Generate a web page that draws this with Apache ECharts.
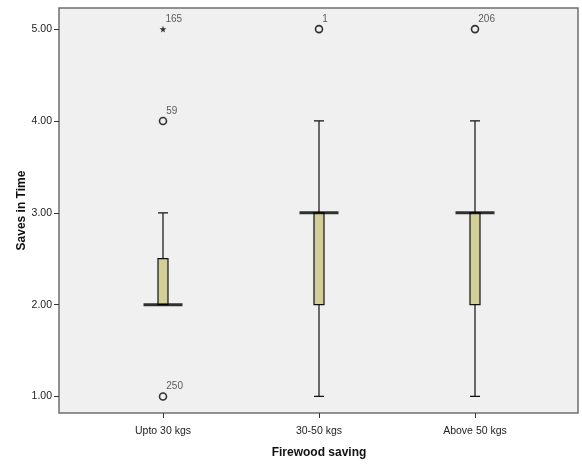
<!DOCTYPE html>
<html>
<head>
<meta charset="utf-8">
<script src="https://cdn.jsdelivr.net/npm/echarts@6/dist/echarts.min.js"></script>
<style>
html,body{margin:0;padding:0;background:#fff;}
#chart{width:582px;height:465px;}
</style>
</head>
<body>
<div id="chart"></div>
<script>
// ---- data ----
const categories = ['Upto 30 kgs', '30-50 kgs', 'Above 50 kgs'];
const whiskerLow  = [2, 1, 1];
const q1          = [2, 2, 2];
const median      = [2, 3, 3];
const q3          = [2.5, 3, 3];
const whiskerHigh = [3, 4, 4];

const outlierCategory = ['Upto 30 kgs', 'Upto 30 kgs', 'Upto 30 kgs', '30-50 kgs', 'Above 50 kgs'];
const outlierValue    = [5, 4, 1, 5, 5];
const outlierCase     = ['165', '59', '250', '1', '206'];
const outlierKind     = ['extreme', 'outlier', 'outlier', 'outlier', 'outlier'];

const yTicks = [1, 2, 3, 4, 5];
const yMin = 0.82, yMax = 5.23;

// ---- build ----
const boxData = categories.map((c, i) => [whiskerLow[i], q1[i], median[i], q3[i], whiskerHigh[i]]);
const medianData = categories.map((c, i) => [c, median[i]]);
const starPath = 'path://M50,0 L61,35 L98,35 L68,57 L79,91 L50,70 L21,91 L32,57 L2,35 L39,35 Z';

const circles = [], stars = [];
outlierValue.forEach((v, i) => {
  const d = {value: [outlierCategory[i], v], name: outlierCase[i]};
  (outlierKind[i] === 'extreme' ? stars : circles).push(d);
});

const font = '"Liberation Sans", Arial, sans-serif';
const labelCfg = {
  show: true, position: 'right', distance: 0, offset: [-1, -10],
  formatter: p => p.name, fontSize: 10, color: '#333', fontFamily: font
};

const chart = echarts.init(document.getElementById('chart'), null, {renderer: 'canvas'});
chart.setOption({
  animation: false,
  backgroundColor: '#ffffff',
  grid: [
    {left: 59, right: 4, top: 8, bottom: 52, show: true, backgroundColor: '#f0f0f0',
     borderColor: '#6e6e6e', borderWidth: 1.5, containLabel: false},
    {left: 85, right: 29, top: 8, bottom: 52, show: false, containLabel: false}
  ],
  xAxis: [
    {gridIndex: 0, type: 'category', data: categories, show: false},
    {gridIndex: 1, type: 'category', data: categories,
     axisLine: {show: false},
     axisTick: {show: true, alignWithLabel: true, length: 5, lineStyle: {color: '#333', width: 1}},
     axisLabel: {fontSize: 10.5, color: '#222', fontFamily: font, margin: 13},
     name: 'Firewood saving', nameLocation: 'middle', nameGap: 34, nameMoveOverlap: false,
     nameTextStyle: {fontSize: 12, fontWeight: 'bold', color: '#111', fontFamily: font},
     splitLine: {show: false}}
  ],
  yAxis: [
    {gridIndex: 0, type: 'value', min: yMin, max: yMax,
     axisLine: {show: false},
     axisTick: {show: true, length: 5, customValues: yTicks, lineStyle: {color: '#333', width: 1}},
     axisLabel: {customValues: yTicks, formatter: v => v.toFixed(2), fontSize: 10.5, color: '#222',
                 fontFamily: font, margin: 7},
     splitLine: {show: false},
     name: 'Saves in Time', nameLocation: 'middle', nameGap: 31, nameMoveOverlap: false,
     nameTextStyle: {fontSize: 12, fontWeight: 'bold', color: '#111', fontFamily: font}},
    {gridIndex: 1, type: 'value', min: yMin, max: yMax, show: false, splitLine: {show: false}}
  ],
  series: [
    {type: 'boxplot', xAxisIndex: 1, yAxisIndex: 1, data: boxData, boxWidth: [10, 10],
     itemStyle: {color: '#d3cf98', borderColor: '#111', borderWidth: 1.2},
     emphasis: {disabled: true}, z: 2},
    {type: 'scatter', xAxisIndex: 1, yAxisIndex: 1, data: medianData, symbol: 'rect',
     symbolSize: [39, 3], itemStyle: {color: '#000'}, z: 4, silent: true},
    {type: 'scatter', xAxisIndex: 1, yAxisIndex: 1, data: circles, symbol: 'circle', symbolSize: 7,
     itemStyle: {color: 'rgba(0,0,0,0)', borderColor: '#000', borderWidth: 1.6},
     label: labelCfg, z: 5},
    {type: 'scatter', xAxisIndex: 1, yAxisIndex: 1, data: stars, symbol: starPath, symbolSize: 7,
     itemStyle: {color: '#000'}, label: labelCfg, z: 5}
  ]
});
</script>
</body>
</html>
